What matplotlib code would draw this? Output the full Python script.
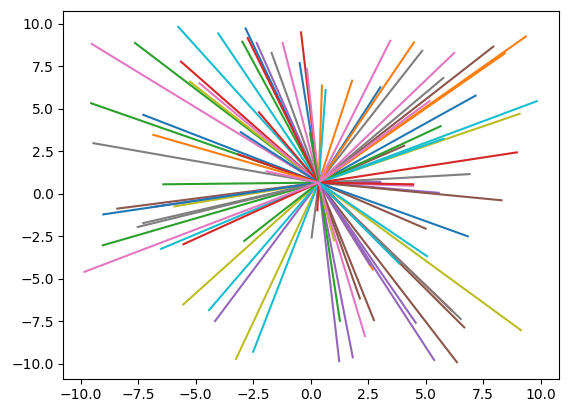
import matplotlib
matplotlib.use("Agg")
import matplotlib.pyplot as plt

# common start point of every line
cx, cy = 0.35, 0.65

# end points, grouped by colour of the default cycle
blue = [(-2.83, 9.72), (-0.48, 7.69), (3.03, 6.26), (7.17, 5.77), (-7.28, 4.64),
        (-3.04, 3.62), (-9.02, -1.22), (6.83, -2.51)]
orange = [(0.49, 6.36), (1.80, 6.65), (4.49, 8.90), (9.36, 9.25), (8.45, 8.28),
          (8.38, 8.20), (-6.84, 3.46), (2.70, -4.46)]
green = [(-7.64, 8.87), (-2.97, 8.94), (-9.55, 5.32), (-6.41, 0.55), (5.65, 3.97),
         (-0.03, 3.54), (-9.04, -3.04), (-2.89, -2.78), (1.27, -7.48)]
red = [(6.13, -6.86), (-5.64, 7.77), (-2.74, 9.16), (-0.42, 9.49), (-2.25, 4.79),
       (-3.15, 2.31), (8.97, 2.43), (4.46, 0.55), (0.29, -0.98), (-5.54, -2.98)]
purple = [(-2.35, 8.87), (5.57, 0.05), (3.03, 0.69), (-6.91, -0.79), (-4.16, -7.50),
          (1.24, -9.85), (1.83, -9.63), (5.37, -9.79), (4.57, -7.60), (2.58, -4.20)]
brown = [(7.94, 8.65), (4.07, 2.82), (-8.41, -0.88), (8.30, -0.39), (5.00, -2.06),
         (6.68, -7.87), (6.36, -9.92), (2.14, -6.17), (2.75, -7.44)]
pink = [(4.45, 0.46), (-9.52, 8.81), (-4.84, 6.50), (-1.22, 8.87), (-0.16, 7.34),
        (3.46, 9.00), (6.24, 8.28), (5.17, 5.45), (-1.91, 1.31), (-9.84, -4.60),
        (2.36, -8.38)]
gray = [(-1.70, 8.28), (4.85, 8.41), (5.77, 6.81), (-9.45, 2.97), (6.91, 1.15),
        (-7.28, -1.73), (-7.52, -1.96), (0.04, -2.58), (6.53, -7.38)]
olive = [(-5.25, 6.59), (9.09, 4.70), (-1.84, 1.76), (-5.93, -0.75), (-5.54, -6.52),
         (-3.25, -9.73), (1.01, -2.74), (9.14, -8.03)]
cyan = [(-5.76, 9.82), (-4.02, 9.43), (0.65, 6.10), (9.83, 5.44), (5.77, 3.23),
        (-6.51, -3.25), (-4.42, -6.85), (-2.50, -9.30), (5.06, -3.68), (3.85, -4.11)]

groups = [blue, orange, green, red, purple, brown, pink, gray, olive, cyan]

fig = plt.figure(figsize=(5.68, 4.13), dpi=100)
ax = fig.add_axes([63.3/568, 34.3/413, 495.7/568, 367.7/413])

n = max(len(g) for g in groups)
for i in range(n):
    for k, g in enumerate(groups):
        if i < len(g):
            x, y = g[i]
            ax.plot([cx, x], [cy, y], color="C"+str(k))

ax.set_xlim(-10.76, 10.80)
ax.set_ylim(-10.89, 10.75)
ax.set_xticks([-10, -7.5, -5, -2.5, 0, 2.5, 5, 7.5, 10])
ax.set_yticks([-10, -7.5, -5, -2.5, 0, 2.5, 5, 7.5, 10])

fig.savefig("out.png")
